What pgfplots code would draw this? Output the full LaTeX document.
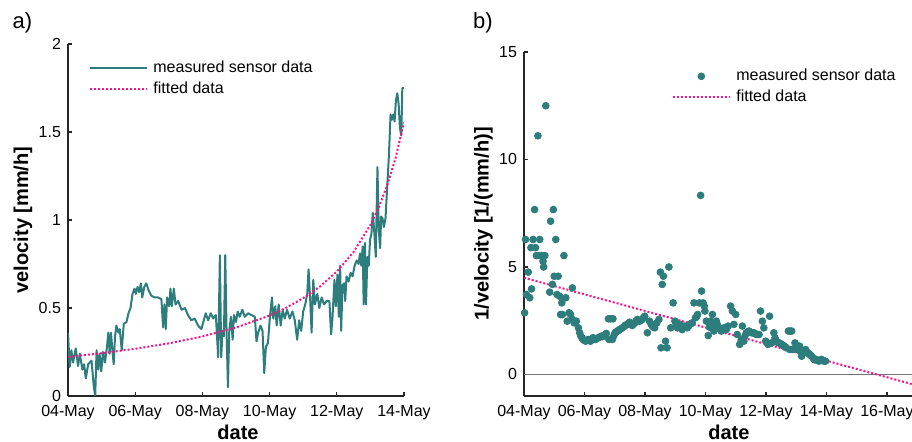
\documentclass[border=0pt]{standalone}
\usepackage{fontspec}
\setmainfont{Liberation Sans}
\usepackage{pgfplots}
\pgfplotsset{compat=1.18}
\definecolor{sensorteal}{RGB}{46,125,125}
\definecolor{fitpink}{RGB}{250,20,135}
\pgfplotsset{
  myaxis/.style={
    scale only axis,
    axis lines=left,
    axis line style={-, line width=0.6pt, black!85},
    tick align=inside,
    major tick length=2pt,
    tick style={line width=0.6pt, black!85},
    tick label style={font=\fontsize{8}{9.6}\selectfont},
    xticklabel style={yshift=-1.2pt},
    /pgf/number format/assume math mode=true,
    every axis x label/.style={font=\bfseries\fontsize{10}{12}\selectfont, anchor=base},
    every axis y label/.style={font=\bfseries\fontsize{10}{12}\selectfont, anchor=center, rotate=90},
    legend style={draw=none, fill=none, font=\fontsize{8}{9.6}\selectfont,
      inner sep=0pt, anchor=north west, column sep=1.5pt, row sep=0pt,
      nodes={text height=6pt, text depth=2pt, inner sep=1.25pt}},
    legend cell align=left,
    legend image code/.code={\draw[mark repeat=2,mark phase=2,#1] plot coordinates {(0pt,0pt) (14.25pt,0pt) (28.5pt,0pt)};},
  }
}
\begin{document}
\begin{tikzpicture}
% ---------------- panel a ----------------
\begin{axis}[myaxis,
  at={(34pt,23pt)}, anchor=south west,
  width=168pt, height=176pt,
  xmin=0, xmax=10, ymin=0, ymax=2,
  xtick={0,2,4,6,8,10},
  xticklabels={04-May,06-May,08-May,10-May,12-May,14-May},
  ytick={0,0.5,1,1.5,2},
  xlabel={date}, ylabel={velocity [mm/h]},
  every axis x label/.append style={at={(axis description cs:0.506,0)}, yshift=-21.6pt},
  every axis y label/.append style={at={(axis description cs:-0.134,0.5)}},
  legend style={at={(0.061,0.9616)}},
]
\addplot[sensorteal, line width=1pt, line join=round] coordinates {
(0,0.36) (0.05,0.165) (0.10,0.26) (0.15,0.19) (0.23,0.27) (0.30,0.17) (0.35,0.24)
(0.43,0.15) (0.48,0.18) (0.53,0.10) (0.60,0.18) (0.70,0.20) (0.77,0.05) (0.81,0.0)
(0.85,0.26) (0.90,0.15) (0.94,0.24) (0.99,0.14) (1.04,0.25) (1.10,0.19) (1.16,0.28)
(1.20,0.36) (1.24,0.24) (1.28,0.36) (1.32,0.26) (1.36,0.18) (1.40,0.34) (1.44,0.40)
(1.50,0.36) (1.54,0.38) (1.60,0.26) (1.66,0.41) (1.74,0.42) (1.80,0.47) (1.86,0.50)
(1.92,0.58) (1.98,0.61) (2.02,0.58) (2.07,0.62) (2.12,0.59) (2.17,0.64) (2.21,0.56)
(2.27,0.62) (2.33,0.64) (2.40,0.60) (2.48,0.57) (2.58,0.56) (2.68,0.56) (2.78,0.55)
(2.83,0.39) (2.87,0.52) (2.91,0.38) (2.95,0.56) (3.01,0.51) (3.05,0.61) (3.09,0.51)
(3.15,0.61) (3.20,0.52) (3.28,0.54) (3.38,0.49) (3.48,0.50) (3.57,0.46) (3.67,0.43)
(3.77,0.44) (3.87,0.40) (3.97,0.38) (4.04,0.43) (4.10,0.47) (4.17,0.43) (4.25,0.47)
(4.32,0.44) (4.40,0.46) (4.47,0.22) (4.52,0.80) (4.56,0.22) (4.60,0.37) (4.64,0.34)
(4.68,0.80) (4.72,0.36) (4.76,0.05) (4.80,0.37) (4.85,0.45) (4.90,0.32) (4.94,0.46)
(5.00,0.42) (5.05,0.48) (5.11,0.45) (5.19,0.49) (5.26,0.45) (5.36,0.47) (5.46,0.46)
(5.56,0.45) (5.61,0.31) (5.66,0.36) (5.73,0.40) (5.79,0.37) (5.84,0.13) (5.89,0.28)
(5.95,0.30) (6.01,0.45) (6.07,0.56) (6.11,0.44) (6.17,0.51) (6.21,0.40) (6.27,0.52)
(6.33,0.40) (6.39,0.49) (6.45,0.44) (6.52,0.49) (6.60,0.44) (6.68,0.48) (6.75,0.43)
(6.82,0.32) (6.88,0.43) (6.94,0.37) (7.00,0.48) (7.06,0.52) (7.12,0.58) (7.16,0.72)
(7.21,0.54) (7.25,0.36) (7.30,0.66) (7.35,0.52) (7.42,0.58) (7.48,0.50) (7.55,0.56)
(7.62,0.52) (7.70,0.54) (7.78,0.54) (7.83,0.35) (7.87,0.44) (7.93,0.66) (7.97,0.51)
(8.02,0.69) (8.06,0.45) (8.10,0.74) (8.13,0.37) (8.17,0.63) (8.22,0.64) (8.25,0.54)
(8.29,0.68) (8.35,0.65) (8.41,0.70) (8.47,0.68) (8.53,0.74) (8.59,0.77) (8.65,0.75)
(8.69,0.81) (8.73,0.74) (8.77,0.85) (8.80,0.52) (8.84,0.87) (8.87,0.52) (8.91,0.79)
(8.95,0.74) (8.99,0.89) (9.03,0.92) (9.07,1.04) (9.12,0.92) (9.16,0.79) (9.21,1.30)
(9.25,0.94) (9.29,0.84) (9.32,1.02) (9.36,1.01) (9.40,0.96) (9.45,1.01) (9.50,1.19)
(9.55,1.36) (9.60,1.60) (9.64,1.57) (9.68,1.60) (9.72,1.56) (9.76,1.68) (9.80,1.72)
(9.84,1.66) (9.88,1.52) (9.92,1.48) (9.95,1.75) (10.0,1.75)
};
\addlegendentry{measured sensor data}
\addplot[fitpink, line width=1pt, densely dotted] coordinates {
(0,0.222) (1,0.243) (2,0.268) (3,0.299) (4,0.338) (5,0.389) (6,0.457)
(6.5,0.502) (7,0.556) (7.5,0.622) (8,0.707) (8.5,0.818) (9,0.972)
(9.25,1.073) (9.5,1.196) (9.75,1.353) (10,1.555)
};
\addlegendentry{fitted data}
\end{axis}
% ---------------- panel b ----------------
\begin{axis}[myaxis,
  at={(262pt,23pt)}, anchor=south west,
  width=196.6pt, height=172pt,
  xmin=0, xmax=13, ymin=-1, ymax=15,
  xtick={0,2,4,6,8,10,12},
  xticklabels={04-May,06-May,08-May,10-May,12-May,14-May,16-May},
  ytick={0,5,10,15},
  xlabel={date}, ylabel={1/velocity [1/(mm/h)]},
  every axis x label/.append style={at={(axis description cs:0.521,0)}, yshift=-21.6pt},
  every axis y label/.append style={at={(axis description cs:-0.103,0.5)}},
  legend style={at={(0.375,0.961)}},
]
\addplot[black!55, line width=0.6pt, forget plot] coordinates {(0,0) (13,0)};
\addplot[only marks, mark=*, mark size=1.7pt, color=sensorteal, fill=sensorteal] table {
x y
0.02 2.87
0.05 6.28
0.08 3.72
0.14 4.76
0.19 3.57
0.25 3.98
0.23 5.90
0.30 6.28
0.35 7.67
0.38 5.90
0.41 5.53
0.46 11.1
0.52 6.28
0.52 5.53
0.58 5.53
0.63 5.27
0.65 5.00
0.69 5.53
0.72 12.5
0.85 3.83
0.88 7.13
0.94 4.19
0.97 7.67
1.00 4.57
1.05 6.28
1.09 3.72
1.13 4.57
1.18 3.64
1.21 2.79
1.25 3.33
1.27 2.79
1.32 5.53
1.38 3.57
1.43 2.48
1.49 2.87
1.54 2.79
1.60 4.03
1.60 2.56
1.66 2.40
1.73 2.48
1.80 2.17
1.84 1.94
1.88 1.78
1.92 1.70
1.95 1.63
2.00 1.58
2.04 1.55
2.09 1.60
2.13 1.63
2.17 1.58
2.20 1.55
2.24 1.62
2.28 1.71
2.33 1.66
2.37 1.63
2.42 1.68
2.46 1.71
2.50 1.74
2.55 1.78
2.59 1.76
2.63 1.81
2.68 1.85
2.72 1.91
2.79 2.59
2.86 2.59
2.94 2.59
2.81 1.63
2.92 1.63
2.97 1.80
3.01 1.94
3.05 1.98
3.09 2.02
3.13 2.05
3.16 2.09
3.20 2.12
3.25 2.17
3.30 2.22
3.34 2.28
3.38 2.30
3.42 2.33
3.46 2.38
3.49 2.43
3.54 2.35
3.58 2.28
3.62 2.34
3.66 2.40
3.70 2.48
3.75 2.56
3.82 2.48
3.87 2.52
3.91 2.56
3.95 2.64
3.99 2.71
4.08 1.94
4.15 2.48
4.20 2.35
4.24 2.25
4.28 2.20
4.32 2.17
4.39 2.40
4.46 2.56
4.51 4.76
4.57 4.19
4.61 4.57
4.53 1.24
4.68 1.55
4.73 1.24
4.79 5.00
4.85 2.17
4.93 3.33
4.99 2.48
5.03 2.30
5.07 2.17
5.11 2.22
5.15 2.33
5.19 2.20
5.23 2.09
5.28 2.18
5.32 2.25
5.36 2.20
5.40 2.17
5.44 2.25
5.48 2.33
5.52 2.36
5.56 2.40
5.62 3.33
5.67 2.64
5.71 2.70
5.74 2.79
5.80 3.33
5.84 8.33
5.87 3.88
5.92 3.33
5.96 3.18
5.98 2.95
6.03 2.48
6.09 1.81
6.13 2.20
6.17 2.48
6.23 2.79
6.28 2.02
6.32 2.30
6.36 2.48
6.40 2.30
6.45 2.17
6.49 2.10
6.52 2.02
6.56 2.10
6.61 2.17
6.65 2.12
6.69 2.09
6.75 2.25
6.83 3.18
6.89 2.95
6.94 2.33
7.00 2.79
7.05 1.86
7.13 1.40
7.18 1.60
7.22 2.25
7.27 1.55
7.31 1.80
7.35 1.94
7.40 1.98
7.44 2.02
7.49 1.96
7.53 1.94
7.57 1.94
7.60 1.94
7.64 1.90
7.68 1.86
7.73 1.86
7.77 1.86
7.82 2.95
7.88 2.48
7.93 2.17
7.99 1.55
8.03 1.48
8.07 1.40
8.12 2.71
8.19 1.47
8.26 1.94
8.30 1.70
8.34 1.55
8.38 1.50
8.43 1.47
8.47 1.44
8.52 1.40
8.56 1.36
8.60 1.32
8.64 1.28
8.67 1.24
8.74 2.02
8.80 2.02
8.85 2.02
8.79 1.16
8.89 1.16
8.96 1.47
9.00 1.30
9.04 1.16
9.08 1.25
9.11 1.32
9.15 1.05
9.18 0.85
9.22 1.00
9.25 1.09
9.28 1.12
9.31 1.16
9.34 1.08
9.38 1.01
9.41 0.97
9.44 0.93
9.48 0.89
9.51 0.85
9.55 0.78
9.59 0.70
9.62 0.68
9.66 0.70
9.70 0.66
9.75 0.62
9.80 0.66
9.84 0.70
9.88 0.65
9.92 0.62
9.97 0.62
};
\addlegendentry{measured sensor data}
\addplot[fitpink, line width=1pt, densely dotted] coordinates {(0,4.5) (13,-0.514)};
\addlegendentry{fitted data}
\end{axis}
\node[font=\fontsize{11}{13}\selectfont, inner sep=0pt] at (11.25pt,209.75pt) {a)};
\node[font=\fontsize{11}{13}\selectfont, inner sep=0pt] at (241.5pt,209.75pt) {b)};
\pgfresetboundingbox
\useasboundingbox (0pt,0pt) rectangle (456pt,221pt);
\end{tikzpicture}
\end{document}
